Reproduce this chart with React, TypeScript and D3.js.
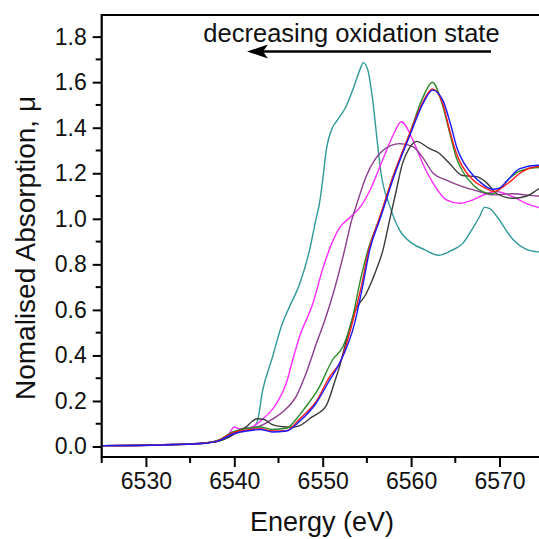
import React, { useRef, useEffect } from "react";
import * as d3 from "d3";

// Fe K-edge XANES, normalised absorption vs energy (eV)
const teal: [number, number][] = [
  [6525, 0.004], [6532, 0.008], [6536, 0.014], [6538, 0.022], [6539.3, 0.04], [6540.3, 0.07],
  [6541.2, 0.078], [6542, 0.082], [6542.6, 0.11], [6543.2, 0.245], [6544.3, 0.39], [6545.3, 0.525],
  [6546.2, 0.61], [6547.4, 0.715], [6548.5, 0.86], [6549.25, 1.0], [6549.6, 1.06], [6550.0, 1.17],
  [6550.4, 1.3], [6551.1, 1.4], [6551.6, 1.43], [6552.6, 1.49], [6553.4, 1.566], [6554.2, 1.654],
  [6554.6, 1.686], [6555.1, 1.654], [6555.66, 1.52], [6556.2, 1.33], [6556.6, 1.2], [6557.55, 1.06],
  [6558.7, 0.95], [6560.2, 0.89], [6561.5, 0.865], [6563.1, 0.84], [6564.5, 0.86], [6565.8, 0.89],
  [6567.0, 0.96], [6567.75, 1.01], [6568.3, 1.05], [6568.9, 1.045], [6569.7, 1.01], [6571.5, 0.91],
  [6573.1, 0.865], [6574.4, 0.855], [6577, 0.85],
];

const magenta: [number, number][] = [
  [6525, 0.004], [6532, 0.008], [6536, 0.014], [6538, 0.025], [6539.3, 0.05], [6540.0, 0.086],
  [6540.6, 0.078], [6541.4, 0.08], [6542.2, 0.09], [6543.2, 0.12], [6544.8, 0.19], [6545.9, 0.28],
  [6546.6, 0.38], [6547.36, 0.48], [6548.9, 0.63], [6550.0, 0.78], [6550.9, 0.88], [6551.9, 0.96],
  [6553.2, 1.01], [6554.4, 1.06], [6555.4, 1.13], [6556.9, 1.27], [6558.0, 1.37], [6558.9, 1.426],
  [6560.2, 1.346], [6561.3, 1.244], [6562.5, 1.156], [6564.0, 1.083], [6565.5, 1.068], [6567.0, 1.083],
  [6568.5, 1.11], [6569.6, 1.12], [6571.5, 1.097], [6573.0, 1.068], [6574.4, 1.05], [6577, 1.03],
];

const purple: [number, number][] = [
  [6525, 0.004], [6532, 0.008], [6536, 0.014], [6538, 0.022], [6539.3, 0.04], [6540.3, 0.06],
  [6541.2, 0.07], [6542.2, 0.08], [6543.2, 0.095], [6544.3, 0.12], [6545.5, 0.153], [6547.0, 0.22],
  [6548.1, 0.32], [6549.35, 0.46], [6550.2, 0.55], [6551.1, 0.66], [6552.4, 0.85], [6553.25, 0.99],
  [6553.9, 1.07], [6554.9, 1.185], [6556.0, 1.265], [6556.8, 1.3], [6558.7, 1.33], [6560.2, 1.317],
  [6561.3, 1.27], [6562.5, 1.2], [6564.0, 1.17], [6565.9, 1.14], [6567.7, 1.12], [6569.2, 1.105],
  [6571.5, 1.11], [6574.4, 1.1], [6577, 1.1],
];

const black: [number, number][] = [
  [6525, 0.004], [6532, 0.008], [6536, 0.014], [6538, 0.022], [6539.3, 0.04], [6540.3, 0.065],
  [6541.3, 0.085], [6542.0, 0.11], [6542.6, 0.122], [6543.3, 0.12], [6544.3, 0.096], [6545.5, 0.087],
  [6546.5, 0.085], [6547.4, 0.092], [6548.8, 0.13], [6550.4, 0.18], [6551.4, 0.29], [6551.9, 0.35],
  [6552.5, 0.44], [6553.6, 0.59], [6554.9, 0.67], [6556.05, 0.775], [6556.8, 0.86], [6557.6, 1.0],
  [6558.3, 1.12], [6559.0, 1.24], [6559.8, 1.31], [6560.6, 1.34], [6562.0, 1.31], [6563.1, 1.29],
  [6564.3, 1.245], [6565.8, 1.19], [6567.4, 1.185], [6568.5, 1.16], [6569.7, 1.11], [6571.5, 1.09],
  [6573.1, 1.1], [6574.4, 1.13], [6577, 1.17],
];

const green: [number, number][] = [
  [6525, 0.004], [6532, 0.007], [6536, 0.012], [6538.3, 0.03], [6539.8, 0.064], [6541.4, 0.08],
  [6542.9, 0.086], [6544.3, 0.075], [6545.9, 0.08], [6547.0, 0.12], [6547.8, 0.16], [6549.6, 0.26],
  [6551.1, 0.38], [6552.3, 0.44], [6553.4, 0.57], [6554.2, 0.72], [6555.1, 0.86], [6556.4, 1.0],
  [6558.0, 1.19], [6559.8, 1.37], [6561.3, 1.53], [6562.4, 1.6], [6563.55, 1.5], [6564.35, 1.38],
  [6565.1, 1.27], [6565.8, 1.21], [6567.0, 1.15], [6568.4, 1.115], [6569.2, 1.11], [6570.0, 1.13],
  [6571.2, 1.18], [6572.3, 1.21], [6574.4, 1.225], [6577, 1.22],
];

const red: [number, number][] = [
  [6525, 0.004], [6532, 0.007], [6536, 0.012], [6538.3, 0.028], [6539.8, 0.06], [6541.4, 0.072],
  [6542.9, 0.078], [6544.3, 0.068], [6545.9, 0.07], [6547.36, 0.12], [6549.3, 0.2], [6550.76, 0.305],
  [6552.1, 0.38], [6553.4, 0.55], [6554.35, 0.7], [6555.2, 0.86], [6556.4, 1.0], [6558.0, 1.19],
  [6559.8, 1.37], [6561.3, 1.51], [6562.4, 1.57], [6563.55, 1.51], [6564.35, 1.39], [6565.1, 1.29],
  [6565.8, 1.23], [6567.0, 1.17], [6568.4, 1.135], [6569.4, 1.12], [6570.4, 1.14], [6571.4, 1.17],
  [6572.3, 1.2], [6574.4, 1.23], [6577, 1.23],
];

const blue: [number, number][] = [
  [6525, 0.004], [6532, 0.007], [6536, 0.012], [6538.3, 0.026], [6539.8, 0.055], [6541.4, 0.068],
  [6542.9, 0.075], [6544.3, 0.064], [6545.9, 0.068], [6547.36, 0.11], [6549.25, 0.19], [6550.76, 0.29],
  [6551.9, 0.365], [6553.6, 0.54], [6554.5, 0.7], [6555.3, 0.86], [6556.5, 1.0], [6558.1, 1.19],
  [6559.9, 1.37], [6561.4, 1.51], [6562.45, 1.565], [6563.6, 1.52], [6564.5, 1.41], [6565.2, 1.31],
  [6565.9, 1.25], [6566.6, 1.21], [6567.7, 1.165], [6569.2, 1.13], [6570.0, 1.135], [6570.8, 1.165],
  [6572.3, 1.22], [6574.4, 1.235], [6577, 1.235],
];

const seriesList = [teal, magenta, purple, black, green, red, blue];
const seriesColors = ["#2f9898", "#ff2aff", "#8c3c8c", "#3a3a3a", "#2a8a2a", "#ff1a1a", "#1a1aff"];

const xTicks = [6530, 6540, 6550, 6560, 6570];
const xMinor = [6525, 6535, 6545, 6555, 6565, 6575];
const yTicks = [0, 0.2, 0.4, 0.6, 0.8, 1.0, 1.2, 1.4, 1.6, 1.8];
const yMinor = [0.1, 0.3, 0.5, 0.7, 0.9, 1.1, 1.3, 1.5, 1.7];

const annotation = "decreasing oxidation state";
const xTitle = "Energy (eV)";
const yTitle = "Nomalised Absorption, \u03bc";

export default function App() {
  const svgRef = useRef<SVGSVGElement>(null);
  const width = 539;
  const height = 539;
  const font = "Arial, 'Liberation Sans', sans-serif";

  useEffect(() => {
    const svg = d3.select(svgRef.current);
    svg.selectAll("*").remove();

    const x = d3.scaleLinear().domain([6525, 6580]).range([101.7, 587.9]);
    const y = d3.scaleLinear().domain([-0.046, 1.895]).range([457, 15]);

    const line = d3.line<[number, number]>()
      .x(d => x(d[0]))
      .y(d => y(d[1]))
      .curve(d3.curveMonotoneX);

    svg.append("g")
      .selectAll("path")
      .data(seriesList)
      .join("path")
        .attr("d", d => line(d))
        .attr("fill", "none")
        .attr("stroke", (d, i) => seriesColors[i])
        .attr("stroke-width", 1.4);

    // bottom axis
    const xAxis = svg.append("g").attr("transform", `translate(0, ${y(-0.046)})`);
    xAxis.call(d3.axisBottom(x).tickValues(xTicks).tickSize(10).tickPadding(6).tickFormat(d3.format("d")))
      .call(g => g.select(".domain").remove());
    xAxis.selectAll(".tick line").attr("stroke-width", 2);
    xAxis.selectAll(".tick text").attr("font-size", 23).attr("font-family", font).attr("fill", "#111");
    xAxis.selectAll(".minor")
      .data(xMinor)
      .join("line")
        .attr("class", "minor")
        .attr("x1", d => x(d)).attr("x2", d => x(d))
        .attr("y1", 0).attr("y2", 6)
        .attr("stroke", "#000").attr("stroke-width", 2);

    // left axis
    const yAxis = svg.append("g").attr("transform", `translate(${x(6525)}, 0)`);
    yAxis.call(d3.axisLeft(y).tickValues(yTicks).tickSize(9).tickPadding(6).tickFormat(d3.format(".1f")))
      .call(g => g.select(".domain").remove());
    yAxis.selectAll(".tick line").attr("stroke-width", 2);
    yAxis.selectAll(".tick text").attr("font-size", 23).attr("font-family", font).attr("fill", "#111");
    yAxis.selectAll(".minor")
      .data(yMinor)
      .join("line")
        .attr("class", "minor")
        .attr("y1", d => y(d)).attr("y2", d => y(d))
        .attr("x1", 0).attr("x2", -6)
        .attr("stroke", "#000").attr("stroke-width", 2);

    // frame lines
    svg.append("path")
      .attr("d", `M${width + 5},${y(1.895)}H${x(6525)}V${y(-0.046)}H${width + 5}`)
      .attr("fill", "none")
      .attr("stroke", "#000")
      .attr("stroke-width", 2.2);

    // annotation + arrow
    svg.append("text")
      .attr("x", 351.5).attr("y", 42)
      .attr("text-anchor", "middle")
      .attr("font-family", font).attr("font-size", 25.5).attr("fill", "#111")
      .text(annotation);
    svg.append("line")
      .attr("x1", 260).attr("x2", 491).attr("y1", 51.5).attr("y2", 51.5)
      .attr("stroke", "#000").attr("stroke-width", 2.5);
    svg.append("path")
      .attr("d", "M247,51.5L268,44.5L263,51.5L268,58.5Z")
      .attr("fill", "#000");

    // titles
    svg.append("text")
      .attr("x", 322).attr("y", 531)
      .attr("text-anchor", "middle")
      .attr("font-family", font).attr("font-size", 27).attr("fill", "#111")
      .text(xTitle);
    svg.append("text")
      .attr("transform", "translate(35, 248) rotate(-90)")
      .attr("text-anchor", "middle")
      .attr("font-family", font).attr("font-size", 28).attr("fill", "#111")
      .text(yTitle);
  }, []);

  return (
    <svg
      ref={svgRef}
      width={width}
      height={height}
      style={{ position: "absolute", left: 0, top: 0, background: "#fff" }}
    />
  );
}
